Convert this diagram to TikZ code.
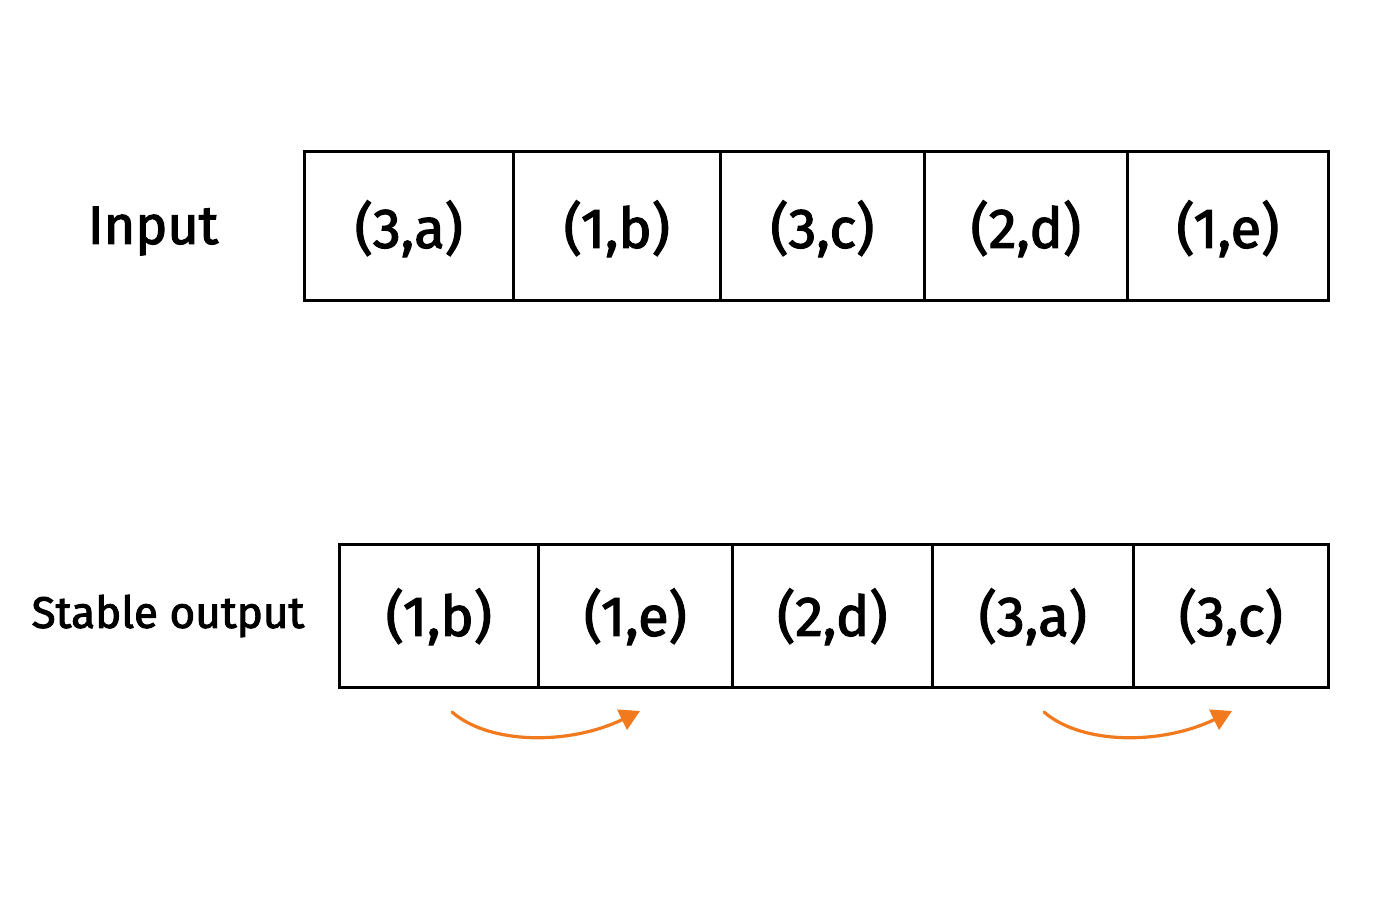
\documentclass[tikz,border=0pt]{standalone}
\usepackage{fontspec}
\setmainfont{Fira Sans}[FakeBold=2.2,UprightFeatures={FakeBold=2.2}]
\usetikzlibrary{arrows.meta}
\definecolor{arrorange}{HTML}{F27A1E}
\tikzset{
  cell/.style={draw=black, line width=2.6pt, minimum height=#1, inner sep=0pt, anchor=north west},
  celltxt/.style={font=\fontsize{56}{66}\selectfont},
  rowlabel/.style={font=\fontsize{54}{64}\selectfont, inner sep=0pt},
  swap/.style={draw=arrorange, line width=3.2pt, line cap=round, -{Triangle[length=20pt,width=22pt]}}
}
\begin{document}
\begin{tikzpicture}[x=1pt,y=-1pt]
\useasboundingbox[fill=white] (0,0) rectangle (1400,900);
% input row
\foreach \n/\a/\b/\t in {i1/303/512/{(3,a)}, i2/512/719/{(1,b)}, i3/719/923/{(3,c)}, i4/923/1126/{(2,d)}, i5/1126/1327/{(1,e)}}{
  \node[cell=149pt, minimum width={(\b-\a)*1pt}] (\n) at (\a,150) {};
  \node[celltxt] at ([yshift=-3pt]\n.center) {\t};
}
\node[rowlabel] (lin) at (153,231) {Input};
% output row
\foreach \n/\a/\b/\t in {o1/338/537/{(1,b)}, o2/537/731/{(1,e)}, o3/731/931/{(2,d)}, o4/931/1132/{(3,a)}, o5/1132/1327/{(3,c)}}{
  \node[cell=143pt, minimum width={(\b-\a)*1pt}] (\n) at (\a,543) {};
  \node[celltxt] at ([yshift=-1pt]\n.center) {\t};
}
\node[rowlabel, font=\fontsize{44}{52}\selectfont] (lout) at (168,616) {Stable output};
% arrows
\coordinate (a1s) at (452,712);
\coordinate (a1e) at (640,711);
\coordinate (a2s) at (1044,712);
\coordinate (a2e) at (1232,711);
\draw[swap] (a1s) .. controls (490,745) and (570,745) .. (a1e);
\draw[swap] (a2s) .. controls (1082,745) and (1162,745) .. (a2e);
\end{tikzpicture}
\end{document}
